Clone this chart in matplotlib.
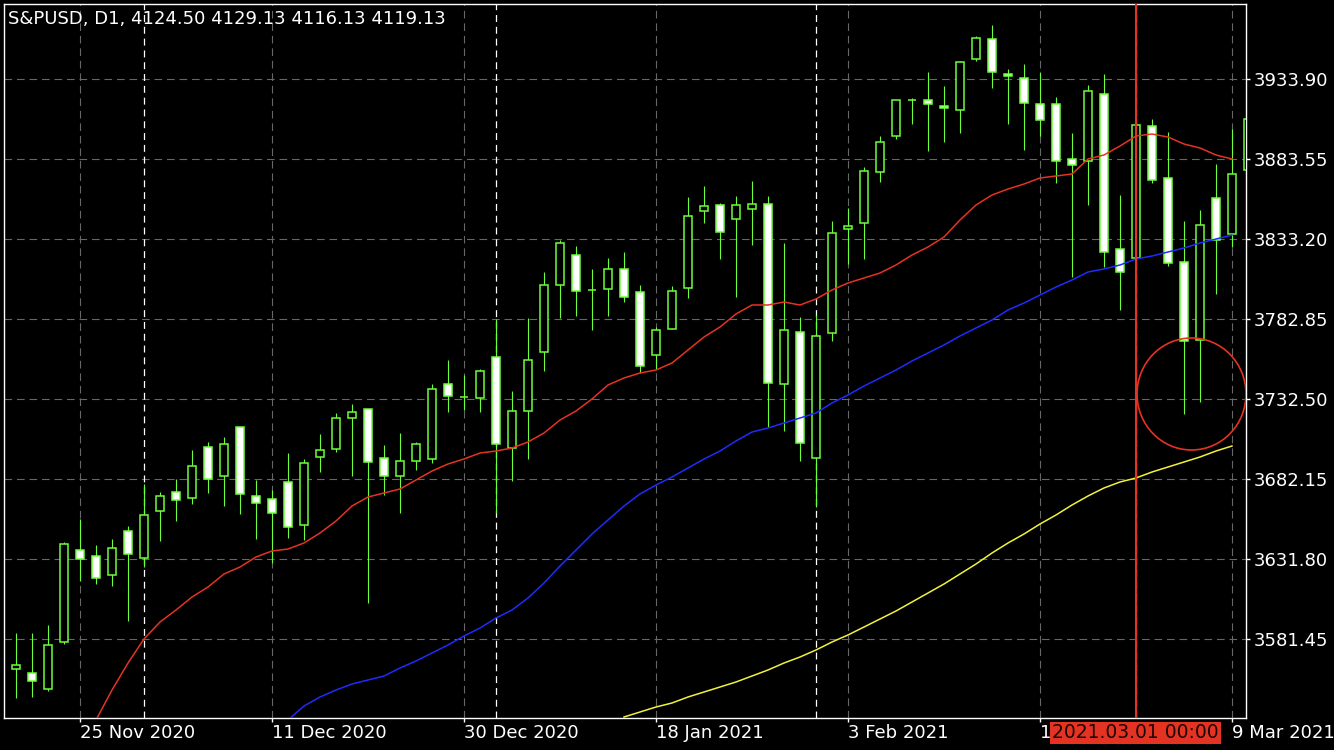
import numpy as np
import pandas as pd
import matplotlib
matplotlib.use("Agg")
import matplotlib.pyplot as plt
from matplotlib.patches import Ellipse, Rectangle

plt.rcParams['font.family'] = ['DejaVu Sans']
plt.rcParams['lines.scale_dashes'] = False

GREEN = '#6cff3c'
RED = '#e53323'
BLUE = '#1e2cff'
YELLOW = '#f2f23c'

# trading days shown on the chart
days = {
    '2020-11': [19, 20, 23, 24, 25, 26, 27, 30],
    '2020-12': [1, 2, 3, 4, 7, 8, 9, 10, 11, 14, 15, 16, 17, 18, 21, 22, 23, 24, 28, 29, 30, 31],
    '2021-01': [4, 5, 6, 7, 8, 11, 12, 13, 14, 15, 18, 19, 20, 21, 22, 25, 26, 27, 28, 29],
    '2021-02': [1, 2, 3, 4, 5, 8, 9, 10, 11, 12, 15, 16, 17, 18, 19, 22, 23, 24, 25, 26],
    '2021-03': [1, 2, 3, 4, 5, 8, 9, 10],
}
dates = pd.to_datetime([f'{m}-{d:02d}' for m, ds in days.items() for d in ds])

opens = np.array([
    3562.57, 3560.05, 3549.98, 3579.56, 3637.46, 3633.69, 3621.73, 3649.42, 3632.43, 3662.01,
    3673.97, 3670.19, 3702.29, 3684.04, 3714.88, 3671.45, 3669.56, 3680.26, 3653.20, 3696.00,
    3701.03, 3720.54, 3726.21, 3695.37, 3684.04, 3693.48, 3694.74, 3741.94, 3733.76, 3733.13,
    3758.93, 3701.66, 3724.95, 3762.08, 3804.25, 3823.13, 3801.10, 3801.73, 3814.32, 3799.84,
    3760.19, 3776.56, 3802.36, 3850.82, 3854.60, 3845.79, 3852.08, 3855.23, 3741.94, 3774.67,
    3695.37, 3774.04, 3839.49, 3843.27, 3875.37, 3898.02, 3920.68, 3920.68, 3916.91, 3914.39,
    3946.49, 3959.07, 3937.05, 3934.53, 3918.16, 3918.16, 3883.55, 3882.29, 3924.46, 3826.91,
    3821.24, 3904.32, 3871.59, 3818.72, 3769.63, 3859.00, 3836.35, 3876.63])
highs = np.array([
    3585.23, 3585.23, 3590.26, 3642.50, 3656.97, 3640.61, 3644.39, 3652.57, 3679.00, 3673.97,
    3682.15, 3700.40, 3705.44, 3708.58, 3714.88, 3681.52, 3675.23, 3698.51, 3694.74, 3710.47,
    3723.69, 3729.35, 3726.21, 3703.55, 3711.10, 3705.44, 3741.94, 3757.04, 3747.60, 3751.38,
    3782.85, 3737.53, 3783.48, 3812.43, 3832.57, 3828.79, 3814.32, 3821.24, 3825.02, 3804.25,
    3777.81, 3803.62, 3859.63, 3866.56, 3855.86, 3860.26, 3869.70, 3860.26, 3830.68, 3784.11,
    3785.37, 3844.53, 3852.71, 3878.51, 3898.02, 3920.68, 3921.94, 3938.30, 3929.49, 3945.23,
    3960.96, 3967.89, 3940.19, 3943.34, 3938.30, 3922.57, 3899.91, 3930.12, 3937.05, 3860.89,
    3904.95, 3908.72, 3900.54, 3844.53, 3851.45, 3880.40, 3902.43, 3908.72])
lows = np.array([
    3544.32, 3544.95, 3548.72, 3578.30, 3617.95, 3616.07, 3614.81, 3592.78, 3626.76, 3643.13,
    3655.72, 3666.41, 3673.34, 3665.16, 3660.12, 3644.39, 3629.28, 3645.02, 3643.76, 3686.55,
    3699.14, 3684.04, 3604.11, 3672.08, 3660.75, 3687.81, 3692.22, 3724.32, 3725.58, 3724.32,
    3660.75, 3680.89, 3694.74, 3750.12, 3783.48, 3784.74, 3775.93, 3784.74, 3793.55, 3748.86,
    3751.38, 3776.56, 3796.07, 3843.27, 3820.61, 3796.70, 3829.42, 3714.88, 3712.36, 3693.48,
    3664.53, 3769.00, 3817.47, 3820.61, 3869.07, 3896.14, 3905.58, 3888.58, 3894.25, 3899.91,
    3945.23, 3928.23, 3905.58, 3889.21, 3898.02, 3868.44, 3809.28, 3854.60, 3815.58, 3788.51,
    3818.72, 3868.44, 3816.21, 3723.06, 3730.61, 3798.58, 3828.16, 3873.48])
closes = np.array([
    3565.09, 3555.02, 3577.67, 3641.24, 3631.80, 3619.84, 3638.72, 3634.95, 3659.49, 3671.45,
    3668.93, 3690.33, 3682.15, 3704.18, 3672.71, 3667.04, 3660.75, 3651.94, 3692.22, 3700.40,
    3720.54, 3724.32, 3692.85, 3684.04, 3693.48, 3704.18, 3738.79, 3734.39, 3733.76, 3750.12,
    3704.18, 3724.95, 3757.04, 3804.25, 3830.68, 3800.47, 3801.10, 3814.32, 3796.70, 3753.27,
    3775.93, 3800.47, 3847.67, 3853.97, 3837.60, 3854.60, 3855.23, 3742.57, 3775.93, 3704.81,
    3772.15, 3836.98, 3841.38, 3876.00, 3894.25, 3920.68, 3920.68, 3918.16, 3915.65, 3944.60,
    3959.70, 3938.30, 3935.79, 3918.79, 3908.09, 3882.29, 3879.77, 3926.35, 3825.02, 3812.43,
    3904.95, 3870.33, 3818.09, 3769.00, 3842.01, 3832.57, 3874.11, 3908.72])

# moving averages (first value at the given date)
red_start = '2020-11-26'
red_ma = [
    3530.47, 3549.35, 3566.34, 3581.45, 3592.15, 3599.70, 3607.88, 3614.18, 3622.36, 3626.76,
    3633.06, 3636.83, 3638.09, 3641.87, 3648.16, 3655.72, 3665.16, 3670.82, 3673.34, 3675.86,
    3681.52, 3687.18, 3691.59, 3694.74, 3698.51, 3699.77, 3701.66, 3705.44, 3711.10, 3719.28,
    3724.95, 3732.50, 3741.31, 3745.72, 3748.86, 3750.75, 3755.16, 3763.34, 3771.52, 3777.81,
    3786.00, 3791.66, 3791.66, 3793.55, 3791.66, 3795.44, 3801.10, 3805.51, 3808.65, 3811.80,
    3816.84, 3823.13, 3828.16, 3834.46, 3845.16, 3854.60, 3860.89, 3864.67, 3867.81, 3871.59,
    3872.85, 3874.11, 3883.55, 3886.07, 3891.73, 3898.02, 3899.28, 3897.40, 3892.99, 3890.47,
    3886.07, 3883.55]
blue_start = '2020-12-14'
blue_ma = [
    3530.47, 3539.28, 3544.95, 3549.35, 3553.13, 3555.65, 3558.16, 3563.20, 3567.60, 3572.64,
    3577.67, 3583.34, 3588.37, 3594.67, 3599.70, 3607.25, 3616.69, 3627.39, 3637.46, 3647.53,
    3656.34, 3665.16, 3672.71, 3678.37, 3683.41, 3689.07, 3694.74, 3699.77, 3706.07, 3711.73,
    3714.25, 3717.39, 3720.54, 3723.69, 3729.98, 3735.02, 3740.68, 3745.72, 3750.75, 3756.42,
    3761.45, 3766.49, 3772.15, 3777.19, 3782.22, 3788.51, 3792.92, 3797.95, 3802.99, 3807.39,
    3812.43, 3814.32, 3816.84, 3820.61, 3822.50, 3825.02, 3827.54, 3830.68, 3833.20, 3835.72]
yellow_start = '2021-01-14'
yellow_ma = [
    3532.36, 3535.50, 3538.65, 3541.17, 3544.95, 3548.09, 3551.24, 3554.39, 3558.16, 3561.94,
    3566.34, 3570.12, 3574.53, 3579.56, 3583.97, 3589.00, 3594.04, 3599.07, 3604.74, 3610.40,
    3616.07, 3622.36, 3628.65, 3635.58, 3641.87, 3647.53, 3653.83, 3659.49, 3665.79, 3671.45,
    3676.49, 3680.26, 3682.78, 3686.55, 3689.70, 3692.85, 3696.00, 3699.77, 3702.92]

price_ticks = [3581.45, 3631.80, 3682.15, 3732.50, 3782.85, 3833.20, 3883.55, 3933.90]
label_dates = ['2020-11-25', '2020-12-11', '2020-12-30', '2021-01-18', '2021-02-03', '2021-02-19', '2021-03-09']
marker_date = '2021-03-01'
title = 'S&PUSD, D1, 4124.50 4129.13 4116.13 4119.13'

fig = plt.figure(figsize=(13.34, 7.5), dpi=100, facecolor='black')
ax = fig.add_axes([4 / 1334, 32 / 750, 1242 / 1334, 714 / 750])
ax.set_facecolor('black')

x = np.arange(len(dates))
pos = {d: i for i, d in enumerate(dates)}

# grid
for p in price_ticks:
    ax.axhline(p, color='#676767', lw=0.8, linestyle=(0, (5.5, 3.5)), zorder=1)
tick_idx = [pos[pd.Timestamp(d)] for d in label_dates]
for t in tick_idx:
    ax.axvline(t, color='#676767', lw=0.8, linestyle=(0, (5.5, 3.5)), zorder=1)
# month separators
for i in range(1, len(dates)):
    if dates[i].month != dates[i - 1].month:
        ax.axvline(i, color='white', lw=0.9, linestyle=(0, (5, 3.5)), zorder=1)

# candles
ax.vlines(x, lows, highs, color=GREEN, lw=0.8, zorder=3)
up = closes >= opens
ax.bar(x, np.abs(closes - opens), bottom=np.minimum(opens, closes), width=0.46,
       color=np.where(up, 'black', 'white'), edgecolor=GREEN, linewidth=1.1, zorder=4)

# moving averages
for start, vals, col in [(red_start, red_ma, RED), (blue_start, blue_ma, BLUE), (yellow_start, yellow_ma, YELLOW)]:
    s = pos[pd.Timestamp(start)]
    ax.plot(x[s:s + len(vals)], vals, color=col, lw=1.1, zorder=5)

# marker line and circle
m = pos[pd.Timestamp(marker_date)]
ax.axvline(m, color=RED, lw=1.5, zorder=6)
ax.add_patch(Ellipse((73.47, 3735.65), 6.81, 70.5, fill=False, edgecolor=RED, lw=1.2, zorder=6))

ax.set_xlim(-0.75, 76.875)
ax.set_ylim(3531.73, 3981.10)

for sp in ax.spines.values():
    sp.set_color('white')
    sp.set_linewidth(1.0)

ax.yaxis.tick_right()
ax.set_yticks(price_ticks)
ax.set_yticklabels([f'{p:.2f}' for p in price_ticks])
ax.set_xticks(tick_idx)
ax.set_xticklabels([pd.Timestamp(d).strftime('%-d %b %Y') for d in label_dates], ha='left')
ax.tick_params(axis='y', colors='white', length=3, width=1, pad=2.5, labelsize=13)
ax.tick_params(axis='x', colors='white', length=3, width=1, pad=1.5, labelsize=13)

fig.text(8 / 1334, 1 - 19 / 750, title, color='white', fontsize=13, va='center')

# date badge of the marker line, drawn over the tick label it hides
fig.patches.append(Rectangle((1050 / 1334, 6 / 750), 171 / 1334, 22 / 750,
                             transform=fig.transFigure, facecolor=RED, edgecolor='none', zorder=5))
fig.text(1135.5 / 1334, 1 - 733 / 750, pd.Timestamp(marker_date).strftime('%Y.%m.%d %H:%M'),
         color='#1a0500', fontsize=13.5, ha='center', va='center', zorder=6)

fig.savefig('out.png', dpi=100, facecolor='black')
